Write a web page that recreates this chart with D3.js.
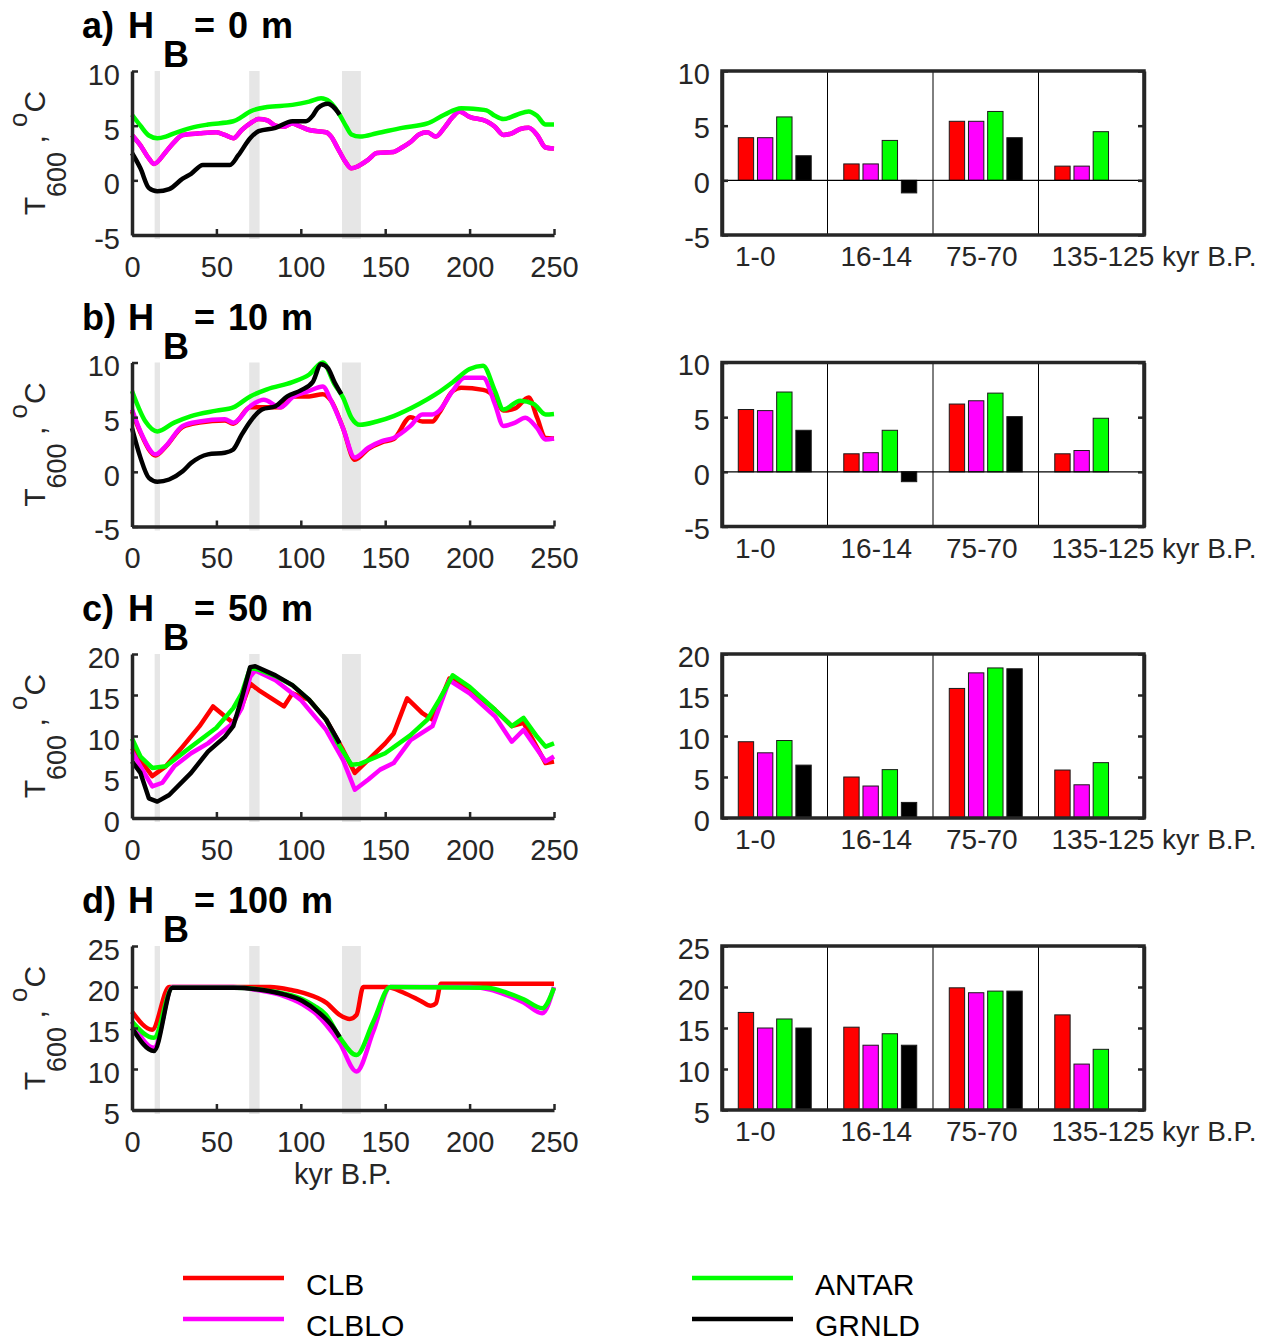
<!DOCTYPE html>
<html>
<head>
<meta charset="utf-8">
<script src="https://cdn.jsdelivr.net/npm/d3@7"></script>
<style>
  body { margin: 0; background: #fff; }
  svg { display: block; font-family: "Liberation Sans", Arial, sans-serif; }
</style>
</head>
<body>
<svg id="fig" width="1265" height="1341"></svg>
<script>
// ---- data ----
var seriesNames = ['CLB', 'CLBLO', 'ANTAR', 'GRNLD'];
var periods = ['1-0', '16-14', '75-70', '135-125'];
var shaded = [[14, 16], [70, 75], [125, 135]];
var xTicks = [0, 50, 100, 150, 200, 250];

// a) H_B = 0 m  (CLB lies under CLBLO)
var lineA_CLBLO = [[0,4.15],[5,3.2],[10,2.0],[13,1.5],[20,2.6],[25,3.5],[30,4.15],[40,4.3],[50,4.4],[55,4.15],[60,3.85],[65,4.6],[70,5.2],[75,5.6],[80,5.5],[85,5.0],[90,4.9],[95,5.2],[100,4.9],[105,4.6],[115,4.4],[118,4.0],[122,2.9],[126,1.8],[130,1.1],[134,1.3],[140,1.9],[145,2.5],[155,2.6],[160,3.0],[165,3.5],[170,4.2],[175,4.4],[180,4.0],[185,4.8],[190,5.8],[194,6.3],[200,5.8],[210,5.4],[215,4.9],[220,4.15],[225,4.3],[230,4.7],[235,4.8],[240,4.15],[245,3.0],[250,2.9]];
var lineA_CLB = lineA_CLBLO;
var lineA_ANTAR = [[0,6.0],[5,5.0],[10,4.1],[15,3.85],[20,4.0],[25,4.3],[35,4.8],[45,5.1],[60,5.4],[65,5.8],[70,6.3],[80,6.7],[95,6.9],[105,7.2],[112,7.5],[117,7.2],[120,6.7],[123,6.0],[127,4.9],[130,4.2],[135,4.0],[145,4.3],[160,4.8],[175,5.2],[185,6.0],[195,6.6],[205,6.5],[210,6.4],[215,5.9],[220,5.6],[228,6.0],[235,6.3],[240,5.9],[245,5.1],[250,5.1]];
var lineA_GRNLD = [[0,2.5],[5,1.1],[10,-0.7],[15,-1.0],[22,-0.8],[30,0.15],[35,0.6],[42,1.4],[50,1.4],[58,1.4],[63,2.3],[70,3.85],[75,4.5],[85,4.8],[95,5.4],[103,5.4],[107,5.9],[110,6.6],[116,7.0],[120,6.6],[123,6.0]];
var barsA = [[3.9,3.9,5.8,2.25],[1.5,1.5,3.65,-1.15],[5.4,5.4,6.3,3.9],[1.3,1.3,4.45,null]];

// b) H_B = 10 m
var lineB_CLB = [[0,5.55],[5,3.6],[14,1.5],[20,2.3],[30,4.1],[40,4.5],[55,4.7],[60,4.4],[70,5.9],[78,5.9],[88,5.9],[95,6.9],[105,6.9],[113,7.1],[118,6.5],[125,4.0],[132,1.1],[140,2.1],[148,2.7],[155,3.0],[165,5.0],[172,4.6],[178,4.6],[182,5.4],[190,7.4],[195,7.7],[208,7.5],[215,6.8],[220,5.6],[227,5.8],[235,6.8],[240,4.95],[245,3.1],[250,3.05]];
var lineB_CLBLO = [[0,5.7],[5,3.7],[14,1.6],[20,2.35],[30,4.2],[40,4.6],[55,4.8],[60,4.5],[70,6.0],[78,6.6],[88,5.9],[95,6.8],[105,7.4],[113,7.8],[118,6.5],[125,4.0],[132,1.3],[140,2.2],[148,2.8],[155,3.1],[165,4.2],[172,5.25],[178,5.25],[182,5.6],[190,7.4],[197,8.6],[208,8.6],[215,6.2],[220,4.2],[227,4.5],[233,4.95],[240,4.0],[245,2.95],[250,3.05]];
var lineB_ANTAR = [[0,7.4],[8,4.6],[15,3.7],[25,4.5],[35,5.1],[50,5.6],[60,5.9],[70,6.9],[80,7.55],[95,8.2],[105,8.9],[113,10.0],[120,8.0],[125,6.8],[130,4.95],[135,4.3],[145,4.6],[155,5.1],[170,6.2],[180,7.1],[190,8.2],[200,9.4],[208,9.7],[215,7.4],[220,5.7],[230,6.5],[238,6.2],[245,5.25],[250,5.3]];
var lineB_GRNLD = [[0,4.0],[5,1.3],[10,-0.55],[15,-0.9],[22,-0.7],[30,0.05],[35,0.8],[45,1.6],[55,1.75],[60,2.05],[65,3.4],[70,4.6],[77,5.7],[85,6.0],[92,6.9],[100,7.45],[107,8.2],[112,9.85],[116,9.5],[120,8.2],[124,7.1]];
var barsB = [[5.7,5.6,7.3,3.8],[1.65,1.75,3.8,-0.9],[6.2,6.5,7.2,5.05],[1.65,1.95,4.9,0]];

// c) H_B = 50 m
var lineC_CLB = [[0,8.5],[12,5.1],[20,6.3],[30,8.7],[40,11.2],[48,13.6],[55,12.4],[60,11.6],[65,13.6],[70,16.4],[75,15.6],[90,13.6],[95,15.2],[105,14.4],[115,12.0],[125,8.3],[132,5.5],[140,7.1],[150,9.1],[155,10.3],[163,14.6],[172,12.8],[178,12.0],[188,17.0],[200,15.8],[215,13.2],[225,11.2],[232,11.6],[245,6.7],[250,6.9]];
var lineC_CLBLO = [[0,8.1],[5,6.3],[12,3.85],[18,4.3],[25,6.3],[35,7.9],[45,9.1],[55,10.75],[60,11.6],[65,13.4],[70,17.2],[73,18.0],[85,16.8],[100,14.4],[115,10.75],[125,7.1],[132,3.45],[140,4.7],[147,5.9],[155,6.7],[165,9.5],[178,11.2],[188,16.8],[200,15.2],[215,12.4],[225,9.3],[232,10.75],[245,6.9],[250,7.5]];
var lineC_ANTAR = [[0,9.7],[5,7.5],[12,6.1],[20,6.3],[35,8.7],[50,11.0],[60,13.4],[65,15.2],[70,18.3],[75,18.1],[85,17.3],[95,16.2],[105,14.4],[115,12.0],[122,9.1],[130,6.5],[135,6.6],[150,7.9],[165,10.1],[175,12.0],[182,14.4],[190,17.4],[200,16.0],[215,13.2],[225,11.2],[232,12.2],[240,9.9],[245,8.7],[250,9.1]];
var lineC_GRNLD = [[0,6.9],[5,5.5],[10,2.4],[15,2.0],[22,2.8],[35,5.5],[45,8.1],[55,9.9],[60,11.2],[65,14.6],[70,18.4],[73,18.5],[85,17.4],[95,16.2],[105,14.4],[115,12.0],[123,9.1]];
var barsC = [[9.3,7.95,9.45,6.45],[5.0,3.9,5.9,1.9],[15.8,17.7,18.3,18.2],[5.85,4.05,6.75,null]];

// d) H_B = 100 m
var lineD_CLB = [[0,17.0],[12,14.8],[22,20.0],[50,20.0],[82,20.0],[95,19.6],[103,19.2],[115,18.1],[123,16.6],[129,16.1],[133,16.6],[137,20.0],[151,20.0],[161,19.3],[171,18.3],[177,17.7],[180,18.0],[183,20.4],[220,20.4],[250,20.4]];
var lineD_CLBLO = [[0,15.8],[13,12.6],[24,20.0],[60,20.0],[75,19.6],[90,18.9],[101,17.9],[108,16.9],[115,15.4],[123,13.2],[133,9.7],[143,14.6],[153,20.0],[200,20.0],[212,19.7],[222,19.0],[232,18.1],[243,16.8],[250,20.0]];
var lineD_ANTAR = [[0,15.8],[13,13.8],[24,19.9],[62,19.9],[82,19.5],[92,19.1],[101,18.5],[108,17.7],[115,16.6],[123,13.9],[133,11.7],[143,15.8],[153,20.0],[210,19.9],[222,19.3],[232,18.5],[243,17.4],[250,19.9]];
var lineD_GRNLD = [[0,15.0],[13,12.2],[24,19.9],[60,19.9],[75,19.7],[90,19.1],[101,18.3],[110,17.0],[118,15.4],[123,13.9]];
var barsD = [[16.9,15.0,16.1,15.0],[15.1,12.9,14.3,12.9],[19.9,19.3,19.5,19.5],[16.6,10.6,12.4,null]];

var colors = { CLB: '#ff0000', CLBLO: '#ff00ff', ANTAR: '#00ff00', GRNLD: '#000000' };

var panels = [
  { tag: 'a)', hb: '= 0 m', yDomain: [-5, 10], yTicks: [-5, 0, 5, 10], curve: d3.curveMonotoneX,
    lines: { CLB: lineA_CLB, CLBLO: lineA_CLBLO, ANTAR: lineA_ANTAR, GRNLD: lineA_GRNLD }, bars: barsA },
  { tag: 'b)', hb: '= 10 m', yDomain: [-5, 10], yTicks: [-5, 0, 5, 10], curve: d3.curveMonotoneX,
    lines: { CLB: lineB_CLB, CLBLO: lineB_CLBLO, ANTAR: lineB_ANTAR, GRNLD: lineB_GRNLD }, bars: barsB },
  { tag: 'c)', hb: '= 50 m', yDomain: [0, 20], yTicks: [0, 5, 10, 15, 20], curve: d3.curveLinear,
    lines: { CLB: lineC_CLB, CLBLO: lineC_CLBLO, ANTAR: lineC_ANTAR, GRNLD: lineC_GRNLD }, bars: barsC },
  { tag: 'd)', hb: '= 100 m', yDomain: [5, 25], yTicks: [5, 10, 15, 20, 25], curve: d3.curveMonotoneX,
    lines: { CLB: lineD_CLB, CLBLO: lineD_CLBLO, ANTAR: lineD_ANTAR, GRNLD: lineD_GRNLD }, bars: barsD }
];

// ---- layout ----
var svg = d3.select('#fig');
var ink = '#262626';
var leftX = [132, 554], rightX = [722, 1144];
var tops = [71, 362.5, 654, 946], plotH = 164;
var plain = function (d) { return String(d); }; // hyphen minus, as in the original

function styleAxis(g, labelSize) {
  g.attr('font-size', null).attr('font-family', null);
  g.select('.domain').attr('stroke', ink).attr('stroke-width', 3.5);
  g.selectAll('.tick line').attr('stroke', ink).attr('stroke-width', 2.5);
  g.selectAll('.tick text').attr('fill', ink).style('font-size', labelSize + 'px');
}

panels.forEach(function (p, i) {
  var top = tops[i], bottom = top + plotH;

  // --- left: time series ---
  var x = d3.scaleLinear().domain([0, 250]).range(leftX);
  var y = d3.scaleLinear().domain(p.yDomain).range([bottom, top]);
  var g = svg.append('g');

  g.selectAll('rect.band').data(shaded).join('rect')
    .attr('x', function (d) { return x(d[0]) - 1; })
    .attr('width', function (d) { return x(d[1]) - x(d[0]) + 2; })
    .attr('y', top).attr('height', plotH + 4)
    .attr('fill', '#e6e6e6');

  var line = d3.line()
    .x(function (d) { return x(d[0]); })
    .y(function (d) { return y(d[1]); })
    .curve(p.curve);

  seriesNames.forEach(function (s) {
    g.append('path').datum(p.lines[s])
      .attr('d', line)
      .attr('fill', 'none')
      .attr('stroke', colors[s])
      .attr('stroke-width', 4.5)
      .attr('stroke-linejoin', 'round')
      .attr('stroke-linecap', 'butt');
  });

  var ya = g.append('g').attr('transform', 'translate(' + leftX[0] + ',0)')
    .call(d3.axisLeft(y).tickValues(p.yTicks).tickFormat(plain)
      .tickSize(-6).tickSizeOuter(0).tickPadding(12));
  styleAxis(ya, 29);
  ya.selectAll('.tick text').attr('dy', '0.46em');

  var xa = g.append('g').attr('transform', 'translate(0,' + bottom + ')')
    .call(d3.axisBottom(x).tickValues(xTicks).tickSize(-6).tickSizeOuter(0).tickPadding(21));
  styleAxis(xa, 29);

  // title  "a) H_B = 0 m"
  var title = g.append('g').attr('font-weight', 'bold').attr('font-size', 36).attr('fill', '#000');
  title.append('text').attr('x', 82).attr('y', top - 33).text(p.tag);
  title.append('text').attr('x', 128).attr('y', top - 33).text('H');
  title.append('text').attr('x', 163).attr('y', top - 4).text('B');
  title.append('text').attr('x', 194).attr('y', top - 33)
    .attr('xml:space', 'preserve').attr('word-spacing', 3).text(p.hb);

  // y label  T_600 , °C
  var yl = g.append('text')
    .attr('transform', 'translate(45,' + (top + plotH / 2) + ') rotate(-90)')
    .attr('text-anchor', 'middle').attr('fill', ink).attr('font-size', 30);
  yl.append('tspan').text('T');
  yl.append('tspan').attr('dy', 21).attr('font-size', 27).text('600');
  yl.append('tspan').attr('dy', -21).attr('xml:space', 'preserve').text(' , ');
  yl.append('tspan').attr('dy', -18).attr('font-size', 26).text('o');
  yl.append('tspan').attr('dy', 18).text('C');

  // --- right: period bars ---
  var xb = d3.scaleBand().domain(periods).range(rightX);
  var xs = d3.scaleBand().domain(seriesNames)
    .range([xb.bandwidth() / 2 - 38.4, xb.bandwidth() / 2 + 38.4])
    .paddingInner(0.2).paddingOuter(0.1);
  var yb = d3.scaleLinear().domain(p.yDomain).range([bottom, top]);
  var base = yb(Math.max(0, p.yDomain[0]));
  var rg = svg.append('g');

  var barData = [];
  periods.forEach(function (c, ci) {
    seriesNames.forEach(function (s, si) {
      var v = p.bars[ci][si];
      if (v !== null) barData.push({ period: c, series: s, value: v });
    });
  });

  rg.selectAll('line.sep').data(periods.slice(1)).join('line')
    .attr('x1', function (d) { return xb(d); }).attr('x2', function (d) { return xb(d); })
    .attr('y1', top).attr('y2', bottom)
    .attr('stroke', '#000').attr('stroke-width', 1);

  rg.selectAll('rect.bar').data(barData).join('rect')
    .attr('x', function (d) { return xb(d.period) + xs(d.series); })
    .attr('width', xs.bandwidth())
    .attr('y', function (d) { return Math.min(base, yb(d.value)); })
    .attr('height', function (d) { return Math.abs(yb(d.value) - base); })
    .attr('fill', function (d) { return colors[d.series]; })
    .attr('stroke', '#1a1a1a').attr('stroke-width', 1);

  if (p.yDomain[0] < 0) {
    rg.append('line')
      .attr('x1', rightX[0]).attr('x2', rightX[1])
      .attr('y1', yb(0)).attr('y2', yb(0))
      .attr('stroke', '#000').attr('stroke-width', 1.2);
  }

  var rya = rg.append('g').attr('transform', 'translate(' + rightX[0] + ',0)')
    .call(d3.axisLeft(yb).tickValues(p.yTicks).tickFormat(plain)
      .tickSize(-6).tickSizeOuter(0).tickPadding(12));
  styleAxis(rya, 29);
  rya.selectAll('.tick text').attr('dy', '0.42em');

  var ryb = rg.append('g').attr('transform', 'translate(' + rightX[1] + ',0)')
    .call(d3.axisRight(yb).tickValues(p.yTicks).tickSize(-6).tickSizeOuter(0).tickFormat(''));
  styleAxis(ryb, 29);

  rg.append('rect')
    .attr('x', rightX[0]).attr('y', top)
    .attr('width', rightX[1] - rightX[0]).attr('height', plotH)
    .attr('fill', 'none').attr('stroke', ink).attr('stroke-width', 3.5);

  rg.selectAll('text.cat').data(periods).join('text')
    .attr('x', function (d) { return xb(d) + 13; })
    .attr('y', bottom + 31)
    .attr('fill', ink).attr('font-size', 28)
    .text(function (d, k) { return k === periods.length - 1 ? d + ' kyr B.P.' : d; });
});

// x label under the last panel
svg.append('text')
  .attr('x', (leftX[0] + leftX[1]) / 2).attr('y', 1184)
  .attr('text-anchor', 'middle').attr('fill', ink).attr('font-size', 29)
  .text('kyr B.P.');

// legend
var legendPos = [[183, 1278], [183, 1319], [692, 1278], [692, 1319]];
var lg = svg.append('g').selectAll('g').data(seriesNames).join('g')
  .attr('transform', function (d, k) { return 'translate(' + legendPos[k][0] + ',' + legendPos[k][1] + ')'; });
lg.append('line').attr('x1', 0).attr('x2', 101)
  .attr('stroke', function (d) { return colors[d]; }).attr('stroke-width', 4.5);
lg.append('text').attr('x', 123).attr('y', 17)
  .attr('font-size', 30).attr('fill', '#000')
  .text(function (d) { return d; });
</script>
</body>
</html>
